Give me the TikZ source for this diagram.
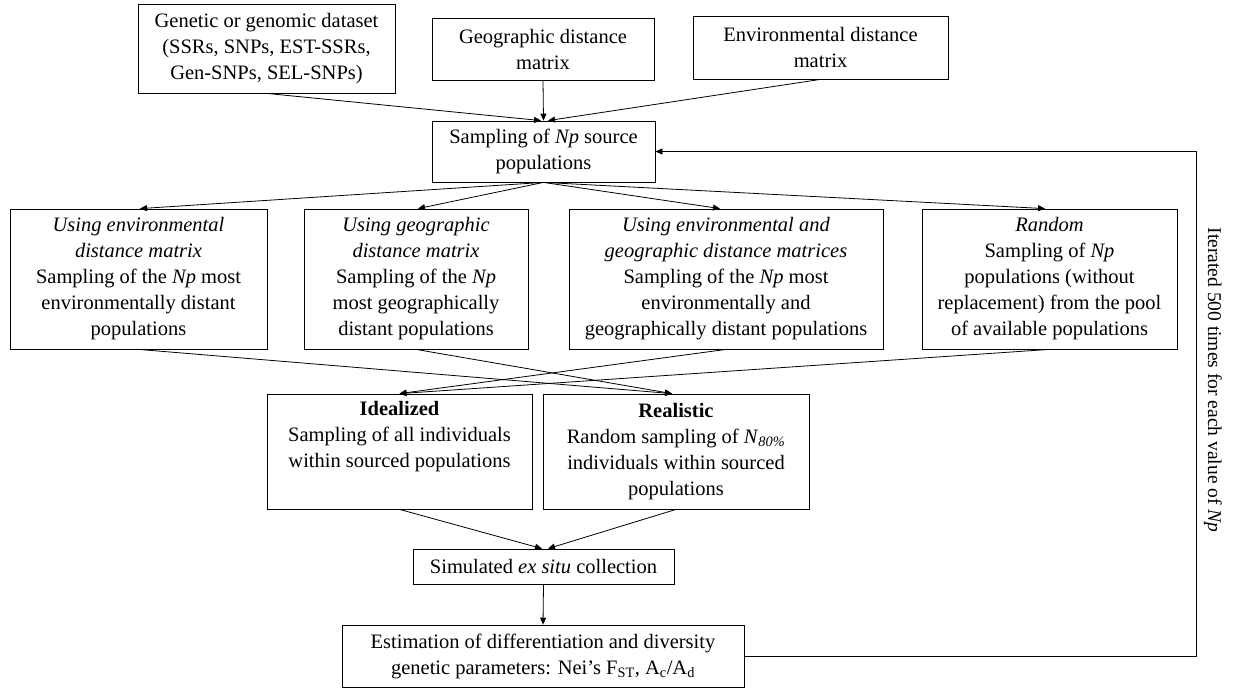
\documentclass[tikz,border=0pt]{standalone}
\usepackage{fontspec}
\setmainfont{Liberation Serif}
\usetikzlibrary{arrows.meta,calc}
\begin{document}
\begin{tikzpicture}[x=1pt,y=-1pt,
  box/.style={draw,line width=0.8pt,align=center,inner sep=0pt,font=\fontsize{20.5}{26}\selectfont},
  conn/.style={line width=0.8pt},
  arr/.style={line width=0.8pt,-{Triangle[length=7pt,width=6pt]}}]
\useasboundingbox (0,0) rectangle (1235,688);
% top row
\node[box,minimum width=257pt,minimum height=89pt] (gen) at (266.5,48.5)
  {Genetic or genomic dataset\\(SSRs, SNPs, EST-SSRs,\\Gen-SNPs, SEL-SNPs)};
\node[box,minimum width=222pt,minimum height=62pt] (geo) at (543,49)
  {Geographic distance\\matrix};
\node[box,minimum width=255pt,minimum height=63pt] (env) at (820.5,47.5)
  {Environmental distance\\matrix};
% source
\node[box,minimum width=223pt,minimum height=61pt] (src) at (543.5,151.5)
  {Sampling of \textit{Np} source\\populations};
% second row
\node[box,minimum width=257pt,minimum height=140pt] (b1) at (138.5,279)
  {\textit{Using environmental}\\\textit{distance matrix}\\Sampling of the \textit{Np} most\\environmentally distant\\populations};
\node[box,minimum width=224pt,minimum height=140pt] (b2) at (416,279)
  {\textit{Using geographic}\\\textit{distance matrix}\\Sampling of the \textit{Np}\\most geographically\\distant populations};
\node[box,minimum width=314pt,minimum height=140pt] (b3) at (726,279)
  {\textit{Using environmental and}\\\textit{geographic distance matrices}\\Sampling of the \textit{Np} most\\environmentally and\\geographically distant populations};
\node[box,minimum width=255pt,minimum height=140pt] (b4) at (1049.5,279)
  {\textit{Random}\\Sampling of \textit{Np}\\populations (without\\replacement) from the pool\\of available populations};
% third row
\node[box,minimum width=265pt,minimum height=115pt] (ideal) at (399.5,451.5)
  {\textbf{Idealized}\\Sampling of all individuals\\within sourced populations\\\strut};
\node[box,minimum width=266pt,minimum height=115pt] (real) at (676,451.5)
  {\textbf{Realistic}\\Random sampling of \textit{N}\textsubscript{\textit{80\%}}\\individuals within sourced\\populations};
% bottom
\node[box,minimum width=261pt,minimum height=35pt] (sim) at (543.5,566.5)
  {Simulated \textit{ex situ} collection};
\node[box,minimum width=402pt,minimum height=62pt] (est) at (543,656)
  {Estimation of differentiation and diversity\\genetic parameters: Nei’s F\textsubscript{ST}, A\textsubscript{c}/A\textsubscript{d}};
% loop label
\node[rotate=-90,inner sep=0pt,font=\fontsize{19.5}{24}\selectfont] (iter) at (1213,380)
  {Iterated 500 times for each value of \textit{Np}};
\coordinate (loopx) at (1196,400);
% connectors
\draw[arr] (gen.south) -- ($(src.north)+(-2.5,0)$);
\draw[arr] (geo.south) -- (src.north);
\draw[arr] (env.south) -- ($(src.north)+(4.5,0)$);
\draw[arr] (src.south) -- ($(b1.north)+(1.5,0)$);
\draw[arr] (src.south) -- ($(b2.north)+(2,0)$);
\draw[arr] (src.south) -- ($(b3.north)+(-6,0)$);
\draw[arr] (src.south) -- ($(b4.north)+(-4.5,0)$);
\draw[arr] (b1.south) -- ($(real.north)+(-4,0)$);
\draw[arr] (b2.south) -- ($(real.north)+(-4,0)$);
\draw[arr] (b3.south) -- (ideal.north);
\draw[arr] (b4.south) -- (ideal.north);
\draw[arr] (ideal.south) -- ($(sim.north)+(-1.5,0)$);
\draw[arr] (real.south) -- ($(sim.north)+(4.5,0)$);
\draw[arr] (sim.south) -- (est.north);
\draw[arr] (est.east) -- (est.east -| loopx) -- (src.east -| loopx) -- (src.east);
\end{tikzpicture}
\end{document}
